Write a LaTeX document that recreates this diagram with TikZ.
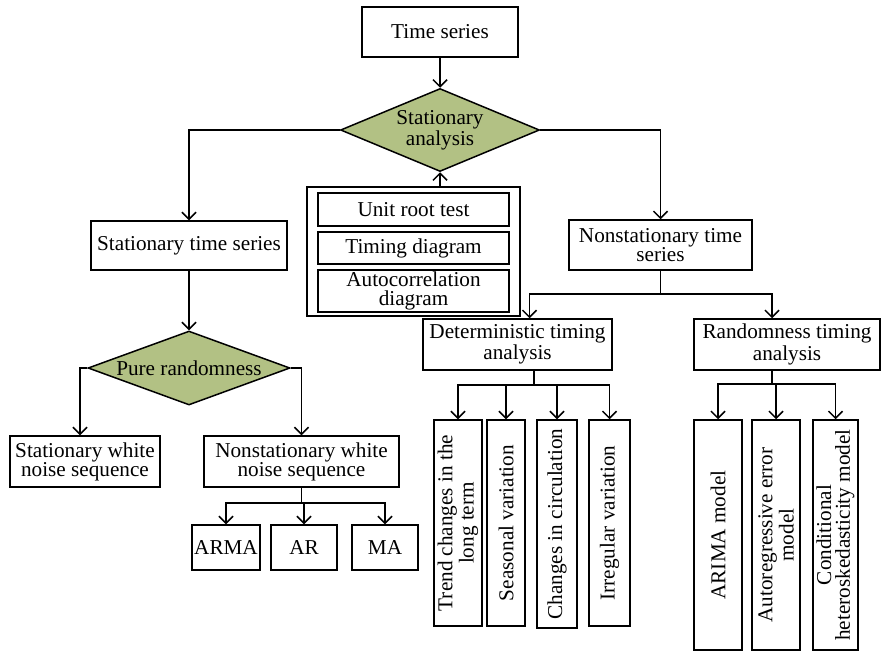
\documentclass[tikz,border=0pt]{standalone}
\usepackage{fontspec}
\setmainfont{Liberation Serif}
\usetikzlibrary{shapes.geometric,arrows.meta}
\definecolor{decisiongreen}{RGB}{178,193,132}
\tikzset{>={Straight Barb[length=3.5pt,width=7pt]}}
\tikzset{
  box/.style={draw, line width=0.75pt, rectangle, align=center, inner sep=0.5pt,
    font=\fontsize{10.6}{9.4}\selectfont},
  vbox/.style={box, rotate=90},
  decision/.style={diamond, draw, line width=0.75pt, fill=decisiongreen, align=center,
    inner sep=0pt, font=\fontsize{10.6}{9.4}\selectfont},
  link/.style={line width=0.75pt}
}
\begin{document}
\begin{tikzpicture}[x=0.5pt,y=-0.5pt]
  \useasboundingbox (0,0) rectangle (881,654);

  % Nodes
  \node[box, minimum width=78pt, minimum height=25pt]  (ts)  at (440,32)    {Time series};
  \node[decision, shape aspect=2.4, minimum width=99.5pt, minimum height=41.5pt] (sa) at (440,130) {Stationary\\analysis};
  \node[box, minimum width=98pt, minimum height=24.5pt]  (sts) at (189,245.5) {Stationary time series};
  \node[box, minimum width=91.5pt, minimum height=25pt]  (nts) at (660.5,245) {Nonstationary time\\series};

  \node[box, minimum width=106.5pt, minimum height=64.5pt] (tests) at (413.5,251.5) {};
  \node[box, minimum width=95.5pt, minimum height=16.5pt] (urt) at (413.5,209.5) {Unit root test};
  \node[box, minimum width=95.5pt, minimum height=16pt]   (tdg) at (413.5,248)   {Timing diagram};
  \node[box, minimum width=95.5pt, minimum height=21pt]   (acd) at (413.5,291)   {Autocorrelation\\diagram};

  \node[decision, shape aspect=2.7, minimum width=101pt, minimum height=37pt] (pr) at (189,368) {Pure randomness};
  \node[box, minimum width=75pt, minimum height=25.5pt]   (swn) at (85,461.5)    {Stationary white\\noise sequence};
  \node[box, minimum width=97.5pt, minimum height=25.5pt] (nwn) at (301.5,461.5) {Nonstationary white\\noise sequence};
  \node[box, minimum width=34pt, minimum height=22.5pt] (arma) at (226,547.5) {ARMA};
  \node[box, minimum width=33pt, minimum height=22.5pt] (ar)   at (304,547.5) {AR};
  \node[box, minimum width=33pt, minimum height=22.5pt] (ma)   at (385,547.5) {MA};

  \node[box, minimum width=94.5pt, minimum height=25.5pt] (dta) at (517.5,344.5) {Deterministic timing\\analysis};
  \node[box, minimum width=93pt, minimum height=25.5pt]   (rta) at (787,344.5)   {Randomness timing\\analysis};

  \node[vbox, minimum width=103pt, minimum height=24pt]   (trend) at (458,523)   {Trend changes in the\\long term};
  \node[vbox, minimum width=103pt, minimum height=19pt]   (seas)  at (506,523)   {Seasonal variation};
  \node[vbox, minimum width=104pt, minimum height=20pt]   (circ)  at (557,524)   {Changes in circulation};
  \node[vbox, minimum width=103pt, minimum height=20.5pt] (irr)   at (609.5,523) {Irregular variation};

  \node[vbox, minimum width=115pt, minimum height=24pt]   (arima)   at (718,535)   {ARIMA model};
  \node[vbox, minimum width=115pt, minimum height=24pt]   (autoerr) at (776,535)   {Autoregressive error\\model};
  \node[vbox, minimum width=115pt, minimum height=22.5pt] (cond)    at (835.5,535) {Conditional\\heteroskedasticity model};

  % Branch points
  \coordinate (nsplit) at (660.5,294);
  \coordinate (dsplit) at (534,385);
  \coordinate (rsplit) at (772,384);
  \coordinate (wsplit) at (301.5,503);

  % Edges
  \draw[link,->] (ts) -- (sa);
  \draw[link,->] (sa.west) -| (sts.north);
  \draw[link,->] (sa.east) -| (nts.north);
  \draw[link,->] (tests.north -| sa.south) -- (sa.south);

  \draw[link,->] (sts) -- (pr);
  \draw[link,->] (pr.west) -| ([xshift=-2.5pt]swn.north);
  \draw[link,->] (pr.east) -| (nwn.north);
  \draw[link] (nwn.south) -- (wsplit);
  \foreach \n in {arma,ar,ma}
    \draw[link,->] (wsplit) -| (\n.north);

  \draw[link] (nts.south) -- (nsplit);
  \draw[link,->] (nsplit) -| ([xshift=6pt]dta.north);
  \draw[link,->] (nsplit) -| ([xshift=-7.5pt]rta.north);

  \draw[link] (dta.south -| dsplit) -- (dsplit);
  \foreach \n in {trend,seas,circ,irr}
    \draw[link,->] (dsplit) -| (\n.east);

  \draw[link] (rta.south -| rsplit) -- (rsplit);
  \foreach \n in {arima,autoerr,cond}
    \draw[link,->] (rsplit) -| (\n.east);
\end{tikzpicture}
\end{document}
